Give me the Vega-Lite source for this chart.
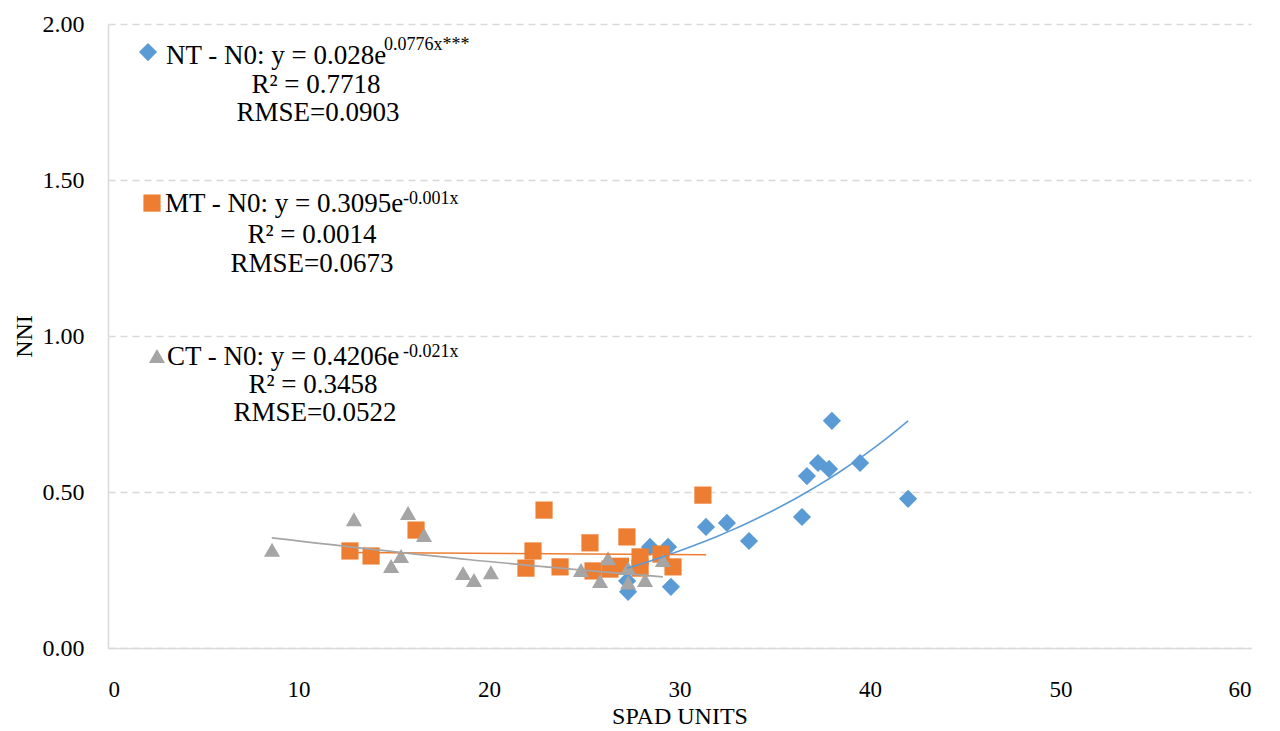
{
  "$schema": "https://vega.github.io/schema/vega-lite/v6.json",
  "width": 1143,
  "height": 624,
  "autosize": "none",
  "padding": {"left": 108, "top": 24, "right": 29, "bottom": 83},
  "background": "white",
  "config": {
    "view": {"stroke": null},
    "font": "Liberation Serif",
    "text": {"font": "Liberation Serif"},
    "style": {
      "guide-label": {"font": "Liberation Serif", "fill": "#000000"},
      "guide-title": {"font": "Liberation Serif", "fill": "#000000", "fontWeight": "normal"}
    },
    "axis": {
      "labelFont": "Liberation Serif",
      "titleFont": "Liberation Serif",
      "labelColor": "#000000",
      "titleColor": "#000000",
      "titleFontWeight": "normal",
      "domainColor": "#D9D9D9",
      "domainWidth": 1.5,
      "ticks": false
    }
  },
  "datasets": {
    "points": [
      {"series": "NT", "SPAD": 27.3, "NNI": 0.18},
      {"series": "NT", "SPAD": 27.25, "NNI": 0.215},
      {"series": "NT", "SPAD": 28.45, "NNI": 0.324},
      {"series": "NT", "SPAD": 29.4, "NNI": 0.324},
      {"series": "NT", "SPAD": 29.55, "NNI": 0.196},
      {"series": "NT", "SPAD": 31.39, "NNI": 0.388},
      {"series": "NT", "SPAD": 32.49, "NNI": 0.401},
      {"series": "NT", "SPAD": 33.65, "NNI": 0.343},
      {"series": "NT", "SPAD": 36.43, "NNI": 0.42},
      {"series": "NT", "SPAD": 36.69, "NNI": 0.551},
      {"series": "NT", "SPAD": 37.27, "NNI": 0.593},
      {"series": "NT", "SPAD": 37.85, "NNI": 0.574},
      {"series": "NT", "SPAD": 38.0, "NNI": 0.728},
      {"series": "NT", "SPAD": 39.48, "NNI": 0.593},
      {"series": "NT", "SPAD": 42.0, "NNI": 0.478},
      {"series": "MT", "SPAD": 12.7, "NNI": 0.311},
      {"series": "MT", "SPAD": 13.81, "NNI": 0.295},
      {"series": "MT", "SPAD": 16.17, "NNI": 0.378},
      {"series": "MT", "SPAD": 21.94, "NNI": 0.256},
      {"series": "MT", "SPAD": 22.31, "NNI": 0.311},
      {"series": "MT", "SPAD": 22.89, "NNI": 0.442},
      {"series": "MT", "SPAD": 23.73, "NNI": 0.26},
      {"series": "MT", "SPAD": 25.3, "NNI": 0.337},
      {"series": "MT", "SPAD": 25.46, "NNI": 0.247},
      {"series": "MT", "SPAD": 26.35, "NNI": 0.253},
      {"series": "MT", "SPAD": 26.9, "NNI": 0.262},
      {"series": "MT", "SPAD": 27.24, "NNI": 0.356},
      {"series": "MT", "SPAD": 27.93, "NNI": 0.292},
      {"series": "MT", "SPAD": 27.93, "NNI": 0.256},
      {"series": "MT", "SPAD": 29.03, "NNI": 0.301},
      {"series": "MT", "SPAD": 29.66, "NNI": 0.26},
      {"series": "MT", "SPAD": 31.23, "NNI": 0.49},
      {"series": "CT", "SPAD": 8.61, "NNI": 0.315},
      {"series": "CT", "SPAD": 12.91, "NNI": 0.413},
      {"series": "CT", "SPAD": 14.86, "NNI": 0.263},
      {"series": "CT", "SPAD": 15.38, "NNI": 0.295},
      {"series": "CT", "SPAD": 15.75, "NNI": 0.433},
      {"series": "CT", "SPAD": 16.59, "NNI": 0.362},
      {"series": "CT", "SPAD": 18.64, "NNI": 0.24},
      {"series": "CT", "SPAD": 19.21, "NNI": 0.218},
      {"series": "CT", "SPAD": 20.1, "NNI": 0.243},
      {"series": "CT", "SPAD": 24.83, "NNI": 0.25},
      {"series": "CT", "SPAD": 25.83, "NNI": 0.215},
      {"series": "CT", "SPAD": 26.25, "NNI": 0.288},
      {"series": "CT", "SPAD": 27.3, "NNI": 0.256},
      {"series": "CT", "SPAD": 27.3, "NNI": 0.21},
      {"series": "CT", "SPAD": 28.19, "NNI": 0.218},
      {"series": "CT", "SPAD": 29.13, "NNI": 0.282}
    ],
    "trend": [
      {"series": "MT", "SPAD": 12.7, "NNI": 0.306},
      {"series": "MT", "SPAD": 31.4, "NNI": 0.299},
      {"series": "CT", "SPAD": 8.6, "NNI": 0.353},
      {"series": "CT", "SPAD": 19.0, "NNI": 0.283},
      {"series": "CT", "SPAD": 29.13, "NNI": 0.228}
    ],
    "keys": [
      {"series": "NT", "x": 2.1, "y": 1.91},
      {"series": "MT", "x": 2.31, "y": 1.426},
      {"series": "CT", "x": 2.57, "y": 0.936}
    ],
    "notes": [
      {"role": "head", "x": 3.04, "y": 1.872, "text": "NT - N0: y = 0.028e"},
      {"role": "sup", "x": 14.49, "y": 1.917, "text": "0.0776x***"},
      {"role": "stat", "x": 10.92, "y": 1.779, "text": "R² = 0.7718"},
      {"role": "stat", "x": 11.02, "y": 1.689, "text": "RMSE=0.0903"},
      {"role": "head", "x": 2.99, "y": 1.397, "text": "MT - N0: y = 0.3095e"},
      {"role": "sup", "x": 15.49, "y": 1.423, "text": "-0.001x"},
      {"role": "stat", "x": 10.71, "y": 1.298, "text": "R² = 0.0014"},
      {"role": "stat", "x": 10.71, "y": 1.205, "text": "RMSE=0.0673"},
      {"role": "head", "x": 3.1, "y": 0.907, "text": "CT - N0: y = 0.4206e"},
      {"role": "sup", "x": 15.49, "y": 0.933, "text": "-0.021x"},
      {"role": "stat", "x": 10.76, "y": 0.817, "text": "R² = 0.3458"},
      {"role": "stat", "x": 10.87, "y": 0.728, "text": "RMSE=0.0522"}
    ]
  },
  "layer": [
    {
      "data": {"name": "points"},
      "mark": {"type": "point", "filled": true, "opacity": 1, "strokeWidth": 0},
      "encoding": {
        "x": {
          "field": "SPAD", "type": "quantitative",
          "scale": {"domain": [0, 60], "nice": false, "zero": true},
          "axis": {
            "values": [0, 10, 20, 30, 40, 50, 60],
            "grid": false,
            "title": "SPAD UNITS",
            "labelFont": "Liberation Serif",
            "titleFont": "Liberation Serif",
            "labelColor": "#000000",
            "titleColor": "#000000",
            "titleFontWeight": "normal",
            "titleFontSize": 24,
            "titlePadding": 3,
            "labelFontSize": 23,
            "labelPadding": 30
          }
        },
        "y": {
          "field": "NNI", "type": "quantitative",
          "scale": {"domain": [0, 2], "nice": false},
          "axis": {
            "values": [0, 0.5, 1, 1.5, 2],
            "format": ".2f",
            "grid": true,
            "gridColor": "#D9D9D9",
            "gridDash": [7, 5],
            "gridWidth": 1.5,
            "title": "NNI",
            "labelFont": "Liberation Serif",
            "titleFont": "Liberation Serif",
            "labelColor": "#000000",
            "titleColor": "#000000",
            "titleFontWeight": "normal",
            "titleFontSize": 24,
            "titlePadding": 6,
            "labelFontSize": 24,
            "labelPadding": 24
          }
        },
        "color": {
          "field": "series", "type": "nominal",
          "scale": {"domain": ["NT", "MT", "CT"], "range": ["#5B9BD5", "#ED7D31", "#A5A5A5"]},
          "legend": null
        },
        "shape": {
          "field": "series", "type": "nominal",
          "scale": {"domain": ["NT", "MT", "CT"], "range": ["diamond", "square", "triangle-up"]},
          "legend": null
        },
        "size": {
          "field": "series", "type": "nominal",
          "scale": {"domain": ["NT", "MT", "CT"], "range": [330, 260, 330]},
          "legend": null
        }
      }
    },
    {
      "data": {"name": "points"},
      "transform": [
        {"filter": "datum.series === 'NT'"},
        {"regression": "NNI", "on": "SPAD", "method": "exp", "groupby": ["series"]}
      ],
      "mark": {"type": "line", "strokeWidth": 1.6},
      "encoding": {
        "x": {"field": "SPAD", "type": "quantitative"},
        "y": {"field": "NNI", "type": "quantitative"},
        "color": {"field": "series", "type": "nominal", "legend": null}
      }
    },
    {
      "data": {"name": "trend"},
      "mark": {"type": "line", "strokeWidth": 1.6, "interpolate": "monotone"},
      "encoding": {
        "x": {"field": "SPAD", "type": "quantitative"},
        "y": {"field": "NNI", "type": "quantitative"},
        "color": {"field": "series", "type": "nominal", "legend": null},
        "detail": {"field": "series"}
      }
    },
    {
      "data": {"name": "keys"},
      "mark": {"type": "point", "filled": true, "opacity": 1, "strokeWidth": 0},
      "encoding": {
        "x": {"field": "x", "type": "quantitative"},
        "y": {"field": "y", "type": "quantitative"},
        "color": {"field": "series", "type": "nominal", "legend": null},
        "shape": {"field": "series", "type": "nominal", "legend": null},
        "size": {
          "field": "series", "type": "nominal",
          "scale": {"domain": ["NT", "MT", "CT"], "range": [361, 441, 361]},
          "legend": null
        }
      }
    },
    {
      "data": {"name": "notes"},
      "transform": [{"filter": "datum.role === 'head'"}],
      "mark": {"type": "text", "align": "left", "baseline": "alphabetic", "fontSize": 27, "font": "Liberation Serif", "color": "#000000"},
      "encoding": {
        "x": {"field": "x", "type": "quantitative"},
        "y": {"field": "y", "type": "quantitative"},
        "text": {"field": "text"}
      }
    },
    {
      "data": {"name": "notes"},
      "transform": [{"filter": "datum.role === 'sup'"}],
      "mark": {"type": "text", "align": "left", "baseline": "alphabetic", "fontSize": 18, "font": "Liberation Serif", "color": "#000000"},
      "encoding": {
        "x": {"field": "x", "type": "quantitative"},
        "y": {"field": "y", "type": "quantitative"},
        "text": {"field": "text"}
      }
    },
    {
      "data": {"name": "notes"},
      "transform": [{"filter": "datum.role === 'stat'"}],
      "mark": {"type": "text", "align": "center", "baseline": "alphabetic", "fontSize": 27, "font": "Liberation Serif", "color": "#000000"},
      "encoding": {
        "x": {"field": "x", "type": "quantitative"},
        "y": {"field": "y", "type": "quantitative"},
        "text": {"field": "text"}
      }
    }
  ]
}
